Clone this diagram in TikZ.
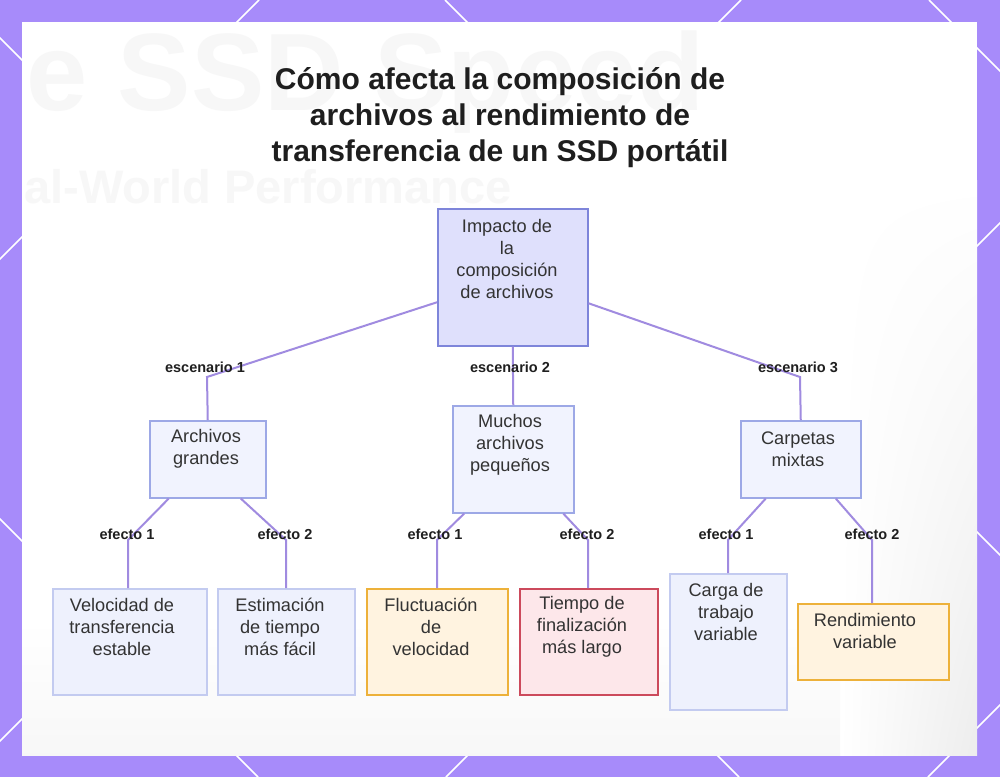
\documentclass[tikz,border=0pt]{standalone}
\usepackage{fontspec}
\setmainfont{Liberation Sans}
\usetikzlibrary{shadings}
\definecolor{bgpurple}{HTML}{A78BFA}
\definecolor{edgec}{HTML}{A08BE0}
\definecolor{rootfill}{HTML}{DFE0FC}
\definecolor{rootdraw}{HTML}{7E85DA}
\definecolor{midfill}{HTML}{F1F3FE}
\definecolor{middraw}{HTML}{9DA8E6}
\definecolor{bluefill}{HTML}{EEF1FD}
\definecolor{bluedraw}{HTML}{C3CBF0}
\definecolor{orfill}{HTML}{FFF3E0}
\definecolor{ordraw}{HTML}{EDB13A}
\definecolor{redfill}{HTML}{FDE7EA}
\definecolor{reddraw}{HTML}{CC4A5C}
\definecolor{txtc}{HTML}{333333}
\definecolor{titlec}{HTML}{1E1E1E}
\begin{document}
\begin{tikzpicture}[x=1pt,y=-1pt,
  conn/.style={draw=edgec, line width=2pt},
  elabel/.style={font=\bfseries\fontsize{14.5}{16}\selectfont, text=black!88, inner sep=0},
  txt/.style={font=\fontsize{18.2}{22}\selectfont, text=txtc, align=center, inner sep=0},
  boxbase/.style={line width=1.5pt, inner sep=0, anchor=north west},
  rootbox/.style={boxbase, fill=rootfill, draw=rootdraw},
  midbox/.style={boxbase, fill=midfill, draw=middraw},
  bluebox/.style={boxbase, fill=bluefill, draw=bluedraw},
  orbox/.style={boxbase, fill=orfill, draw=ordraw},
  redbox/.style={boxbase, fill=redfill, draw=reddraw},
  hexline/.style={white, line width=1.6pt}]
\useasboundingbox (0,0) rectangle (1000,777);
\begin{scope}
\clip (0,0) rectangle (1000,777);
\fill[bgpurple] (0,0) rectangle (1000,777);
\foreach \s in {259,741,1223,1705} \draw[hexline] (\s,0) -- (\s-777,777);
\foreach \d in {-519,-38,445,929} \draw[hexline] (\d,0) -- (\d+777,777);
\end{scope}
\fill[white] (22,22) rectangle (977,755);
% faded background photo
\begin{scope}
\clip (22,22) rectangle (977,755);
\shade[upper left=white, upper right=white, lower left=white, lower right=black!7] (840,180) rectangle (977,755);
\shade[top color=white, bottom color=black!3] (22,620) rectangle (840,755);
\node[font=\bfseries\fontsize{110}{110}\selectfont, text=black!3, anchor=base west, inner sep=0] (bgA) at (26,110) {e SSD Speed};
\node[font=\bfseries\fontsize{47}{47}\selectfont, text=black!3, anchor=base west, inner sep=0] (bgB) at (24,203) {al-World Performance};
\end{scope}
% title
\node[font=\bfseries\fontsize{30}{36}\selectfont, text=titlec, align=center, inner sep=0] (title) at (500,118) {Cómo afecta la composición de\\archivos al rendimiento de\\transferencia de un SSD portátil};
% boxes
\node[rootbox, minimum width=150pt, minimum height=137pt] (root) at (437,208) {};
\node[midbox, minimum width=116pt, minimum height=77pt] (grandes) at (149,420) {};
\node[midbox, minimum width=121pt, minimum height=107pt] (muchos) at (452,405) {};
\node[midbox, minimum width=120pt, minimum height=77pt] (mixtas) at (740,420) {};
\node[bluebox, minimum width=154pt, minimum height=106pt] (velo) at (52,588) {};
\node[bluebox, minimum width=137pt, minimum height=106pt] (esti) at (217,588) {};
\node[orbox, minimum width=141pt, minimum height=106pt] (fluct) at (366,588) {};
\node[redbox, minimum width=138pt, minimum height=106pt] (tiempo) at (519,588) {};
\node[bluebox, minimum width=117pt, minimum height=136pt] (carga) at (669,573) {};
\node[orbox, minimum width=151pt, minimum height=76pt] (rend) at (797,603) {};
% connectors
\coordinate (b1) at (207,377);
\coordinate (b3) at (800,377);
\draw[conn] ([yshift=-25pt]root.west) -- (b1) -- (grandes.north);
\draw[conn] (root.south) -- (muchos.north);
\draw[conn] ([yshift=-26pt]root.east) -- (b3) -- (mixtas.north);
\coordinate (c1) at (128,540);
\coordinate (c2) at (286,540);
\coordinate (c3) at (437,540);
\coordinate (c4) at (588,540);
\coordinate (c5) at (728,540);
\coordinate (c6) at (872,540);
\draw[conn] ([xshift=-39pt]grandes.south) -- (c1) -- (c1 |- velo.north);
\draw[conn] ([xshift=33pt]grandes.south) -- (c2) -- (c2 |- esti.north);
\draw[conn] ([xshift=-49pt]muchos.south) -- (c3) -- (c3 |- fluct.north);
\draw[conn] ([xshift=50pt]muchos.south) -- (c4) -- (c4 |- tiempo.north);
\draw[conn] ([xshift=-35pt]mixtas.south) -- (c5) -- (c5 |- carga.north);
\draw[conn] ([xshift=35pt]mixtas.south) -- (c6) -- (c6 |- rend.north);
% box texts
\node[txt] (rootT) at (507,259) {Impacto de\\la\\composición\\de archivos};
\node[txt] (grandesT) at (206,449) {Archivos\\grandes};
\node[txt] (muchosT) at (510,445) {Muchos\\archivos\\pequeños};
\node[txt] (mixtasT) at (798,449) {Carpetas\\mixtas};
\node[txt] (veloT) at (122,627) {Velocidad de\\transferencia\\estable};
\node[txt] (estiT) at (280,627) {Estimación\\de tiempo\\más fácil};
\node[txt] (fluctT) at (431,627) {Fluctuación\\de\\velocidad};
\node[txt] (tiempoT) at (582,627) {Tiempo de\\finalización\\más largo};
\node[txt] (cargaT) at (726,612) {Carga de\\trabajo\\variable};
\node[txt] (rendT) at (865,631) {Rendimiento\\variable};
% edge labels
\node[elabel] (l1) at (205,367) {escenario 1};
\node[elabel] (l2) at (510,367) {escenario 2};
\node[elabel] (l3) at (798,367) {escenario 3};
\node[elabel] (e1) at (127,534) {efecto 1};
\node[elabel] (e2) at (285,534) {efecto 2};
\node[elabel] (e3) at (435,534) {efecto 1};
\node[elabel] (e4) at (587,534) {efecto 2};
\node[elabel] (e5) at (726,534) {efecto 1};
\node[elabel] (e6) at (872,534) {efecto 2};
\end{tikzpicture}
\end{document}
